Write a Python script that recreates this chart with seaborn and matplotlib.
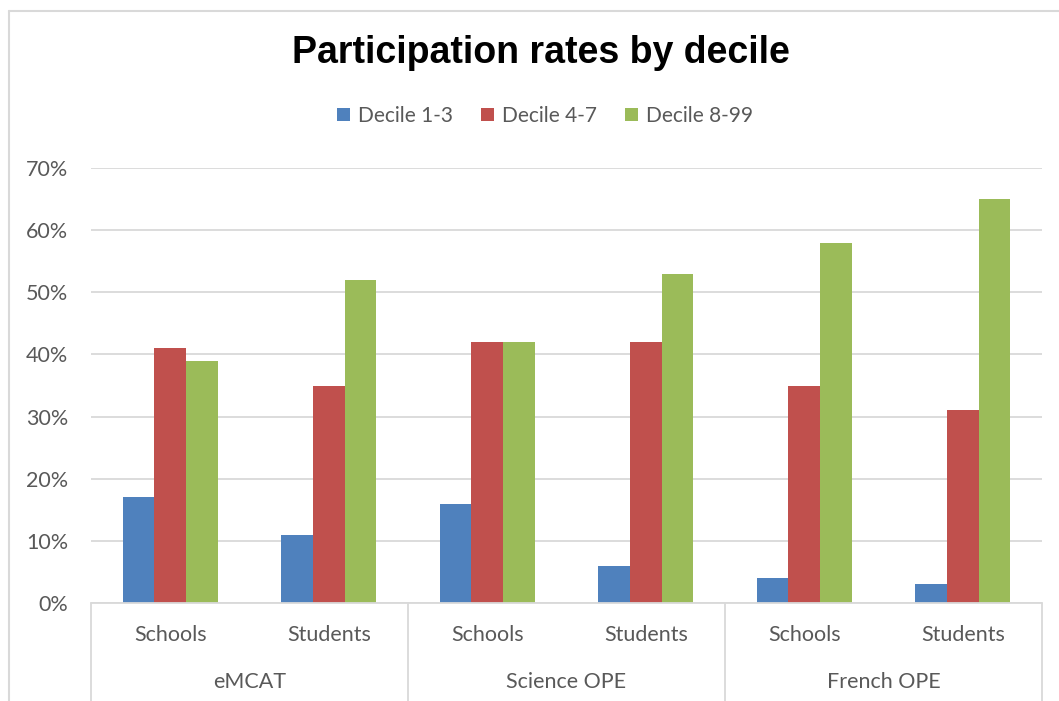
import matplotlib
matplotlib.use("Agg")
import matplotlib.pyplot as plt
import matplotlib.transforms as mtransforms
from matplotlib.lines import Line2D
from matplotlib.patches import Patch
import seaborn as sns
import pandas as pd

# Chart data
groups = ["eMCAT", "Science OPE", "French OPE"]
subgroups = ["Schools", "Students"]
deciles = ["Decile 1-3", "Decile 4-7", "Decile 8-99"]
decile_1_3 = [0.17, 0.11, 0.16, 0.06, 0.04, 0.03]
decile_4_7 = [0.41, 0.35, 0.42, 0.42, 0.35, 0.31]
decile_8_99 = [0.39, 0.52, 0.42, 0.53, 0.58, 0.65]
y_ticks = [0.0, 0.1, 0.2, 0.3, 0.4, 0.5, 0.6, 0.7]

colors = ["#4F81BD", "#C0504D", "#9BBB59"]
grid_c = "#D9D9D9"
text_c = "#595959"

sns.set_theme(style="white")
plt.rcParams["font.family"] = ["Lato", "DejaVu Sans"]

cats = [f"{g}|{s}" for g in groups for s in subgroups]
rows = []
for name, vals in zip(deciles, [decile_1_3, decile_4_7, decile_8_99]):
    for c, v in zip(cats, vals):
        rows.append({"category": c, "decile": name, "value": v})
df = pd.DataFrame(rows)

W, H = 1059, 701
fig = plt.figure(figsize=(W / 100, H / 100), dpi=100)
fig.patch.set_facecolor("white")

ax = fig.add_axes([91 / W, 1 - 603 / H, (1042 - 91) / W, (603 - 168) / H])
sns.barplot(data=df, x="category", y="value", hue="decile", order=cats,
            hue_order=deciles, palette=colors, width=0.6, linewidth=0,
            saturation=1, legend=False, ax=ax)

ax.set_xlim(-0.5, len(cats) - 0.5)
ax.set_ylim(0, 0.7)
ax.set_yticks(y_ticks)
ax.set_yticklabels([f"{int(round(t * 100))}%" for t in y_ticks],
                   color=text_c, fontsize=15.5)
ax.tick_params(axis="y", length=0, pad=16.5)
ax.set_xticks([])
ax.set_xlabel("")
ax.set_ylabel("")
for s in ax.spines.values():
    s.set_visible(False)
ax.yaxis.grid(True, color=grid_c, linewidth=1.3)
ax.set_axisbelow(True)

# Multi-level category axis
trans = mtransforms.blended_transform_factory(ax.transData, ax.transAxes)
ax_h = 603 - 168
bottom = -(701 - 603) / ax_h
ax.add_line(Line2D([-0.5, len(cats) - 0.5], [0, 0], transform=trans,
                   color=grid_c, linewidth=1.3, clip_on=False))
for i in range(len(groups) + 1):
    x = -0.5 + i * len(subgroups)
    ax.add_line(Line2D([x, x], [0, bottom], transform=trans, color=grid_c,
                       linewidth=1.3, clip_on=False))
for i, c in enumerate(cats):
    ax.text(i, -(635 - 603) / ax_h, c.split("|")[1], transform=trans,
            ha="center", va="center", color=text_c, fontsize=15.5)
for gi, g in enumerate(groups):
    x = gi * len(subgroups) + (len(subgroups) - 1) / 2
    ax.text(x, -(682 - 603) / ax_h, g, transform=trans, ha="center",
            va="center", color=text_c, fontsize=15.5)

# Title and legend
fig.text(541 / W, 1 - 53 / H, "Participation rates by decile",
         ha="center", va="center", fontsize=27, fontweight="bold",
         color="black", family=["Liberation Sans", "DejaVu Sans"])
handles = [Patch(facecolor=c, edgecolor="none") for c in colors]
fig.legend(handles, deciles, loc="center", bbox_to_anchor=(545 / W, 1 - 116 / H),
           ncol=3, frameon=False, fontsize=15, labelcolor=text_c,
           handlelength=0.63, handleheight=0.63, handletextpad=0.38,
           columnspacing=1.35)

# Chart frame
fig.add_artist(Line2D([9 / W, 9 / W], [0, 1 - 11 / H], transform=fig.transFigure,
                      color=grid_c, linewidth=1.5))
fig.add_artist(Line2D([9 / W, 1], [1 - 11 / H, 1 - 11 / H],
                      transform=fig.transFigure, color=grid_c, linewidth=1.5))

fig.savefig("out.png", dpi=100, facecolor="white")
